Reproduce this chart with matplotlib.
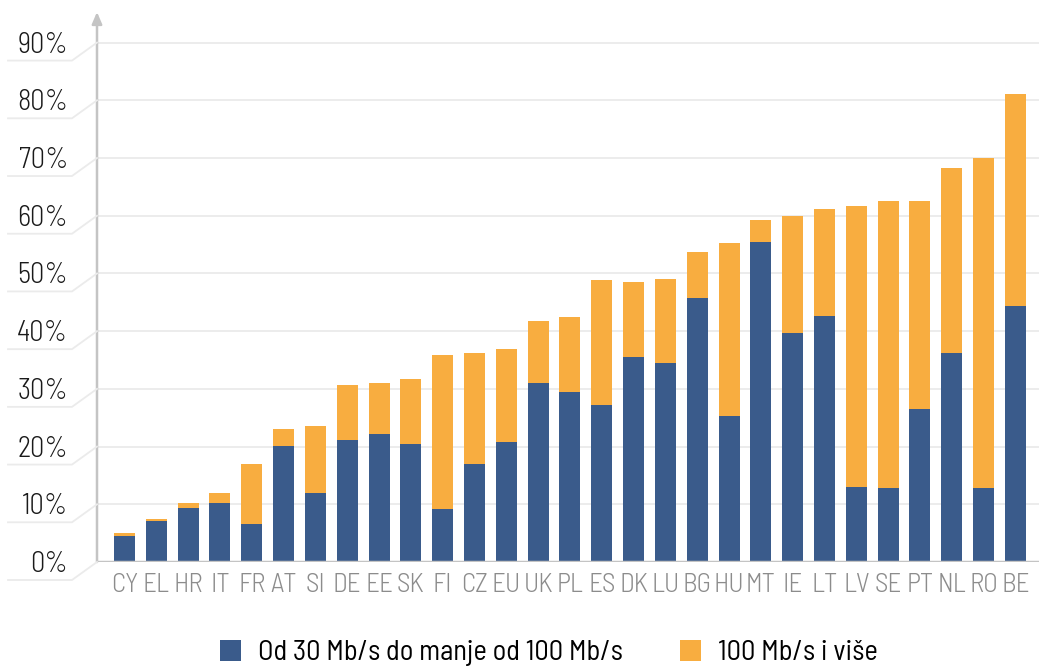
import matplotlib
matplotlib.use("Agg")
import matplotlib.pyplot as plt
from matplotlib.lines import Line2D
from matplotlib.patches import Patch
import numpy as np

# Share of households by broadband speed (%)
countries = ["CY", "EL", "HR", "IT", "FR", "AT", "SI", "DE", "EE", "SK", "FI", "CZ",
             "EU", "UK", "PL", "ES", "DK", "LU", "BG", "HU", "MT", "IE", "LT", "LV",
             "SE", "PT", "NL", "RO", "BE"]
speed_30_100 = [4.5, 7.1, 9.3, 10.2, 6.6, 20.1, 11.9, 21.1, 22.1, 20.4, 9.2, 17.0,
                20.8, 31.1, 29.4, 27.2, 35.5, 34.4, 45.7, 25.3, 55.4, 39.6, 42.6, 13.0,
                12.8, 26.5, 36.3, 12.8, 44.3]
speed_100_plus = [0.5, 0.3, 0.9, 1.7, 10.4, 2.9, 11.6, 9.5, 8.9, 11.3, 26.6, 19.2,
                  16.1, 10.6, 13.0, 21.6, 13.1, 14.7, 8.1, 29.9, 3.9, 20.4, 18.6, 48.6,
                  49.7, 36.1, 31.9, 57.2, 36.8]
y_ticks = [0, 10, 20, 30, 40, 50, 60, 70, 80, 90]
y_tick_labels = ["0%", "10%", "20%", "30%", "40%", "50%", "60%", "70%", "80%", "90%"]
legend_labels = ["Od 30 Mb/s do manje od 100 Mb/s", "100 Mb/s i više"]

BLUE = "#3a5b8b"
ORANGE = "#f8ad40"
GRID = "#ebebeb"
AXIS = "#c4c4c4"

plt.rcParams["font.family"] = ["Barlow Semi Condensed", "DejaVu Sans"]
plt.rcParams["font.weight"] = 400

W, H = 1039, 667
fig = plt.figure(figsize=(W / 100, H / 100), dpi=100)


def fx(px):
    return px / W


def fy(py):
    return 1 - py / H


ax_left, ax_right, ax_top, ax_bottom = 97, 1039, 12, 562
ax = fig.add_axes([fx(ax_left), fy(ax_bottom), fx(ax_right - ax_left), (ax_bottom - ax_top) / H])

x = np.arange(len(countries))
ax.bar(x, speed_30_100, width=0.66, color=BLUE, zorder=3)
ax.bar(x, speed_100_plus, width=0.66, bottom=speed_30_100, color=ORANGE, zorder=3)

ax.set_xlim(-0.864, 28.74)
ax.set_ylim(0, 95.3)

for s in ["top", "right", "left", "bottom"]:
    ax.spines[s].set_visible(False)

# horizontal grid lines
for v in y_ticks[1:]:
    ax.axhline(v, color=GRID, lw=1.3, zorder=1)

# baseline
ax.axhline(0, color=AXIS, lw=2.5, zorder=4)

# vertical axis with arrow head
ax.annotate("", xy=(0, 1.0), xycoords="axes fraction", xytext=(0, 0),
            textcoords="axes fraction",
            arrowprops=dict(arrowstyle="-|>,head_length=0.7,head_width=0.3",
                            color=AXIS, lw=1.8, shrinkA=0, shrinkB=0), zorder=5)

ax.set_yticks([])
ax.set_xticks(x)
ax.set_xticklabels(countries, color="#8c8c8c", fontsize=19.5, fontweight=300)
ax.tick_params(axis="x", length=0, pad=8)

# y tick labels with angled leader lines
fig.canvas.draw()
for v, lab in zip(y_ticks, y_tick_labels):
    _, ydisp = ax.transData.transform((0, v))
    gy = H - ydisp  # pixel row from top
    xs = [8, 72, ax_left]
    ys = [gy + 18, gy + 18, gy]
    fig.add_artist(Line2D([fx(a) for a in xs], [fy(b) for b in ys],
                          color=GRID, lw=1.3, transform=fig.transFigure, zorder=1))
    fig.text(fx(68), fy(gy + 10), lab, ha="right", va="baseline",
             fontsize=20.5, fontweight=300, color="#1a1a1a")

handles = [Patch(facecolor=BLUE, edgecolor="none"), Patch(facecolor=ORANGE, edgecolor="none")]
fig.legend(handles, legend_labels, ncol=2, loc="center",
           bbox_to_anchor=(fx(549), fy(653)), frameon=False,
           prop={"size": 20.5, "weight": 400},
           handlelength=0.75, handleheight=0.75, handletextpad=0.6, columnspacing=2.0,
           borderpad=0, borderaxespad=0)

fig.savefig("out.png", dpi=100, facecolor="white")
